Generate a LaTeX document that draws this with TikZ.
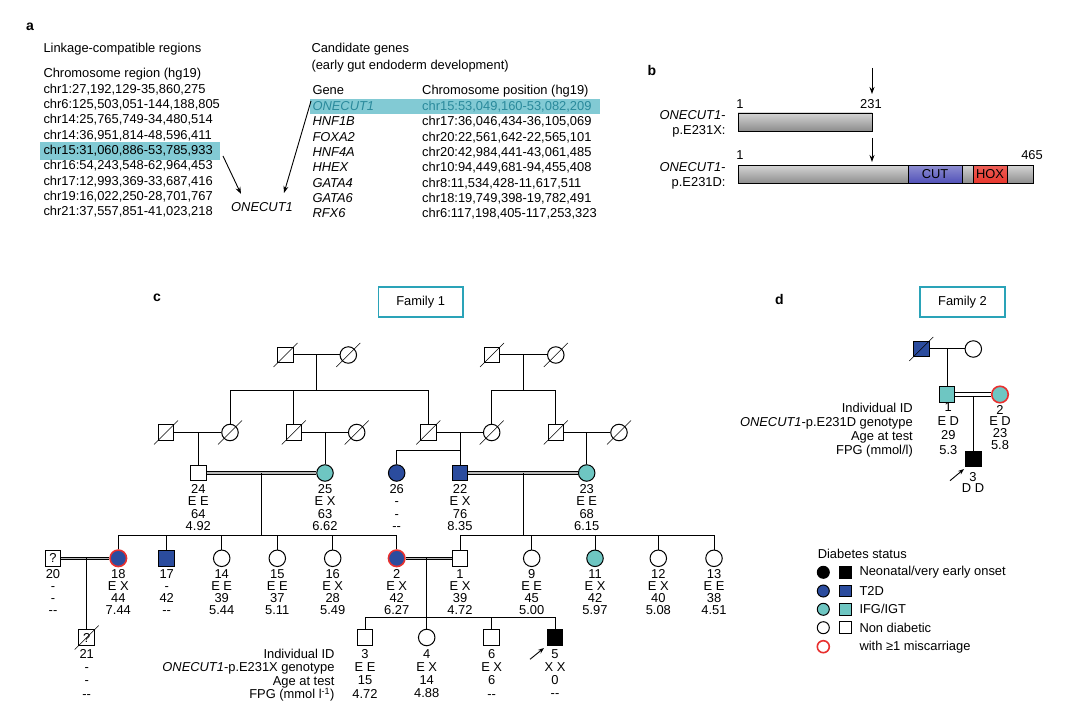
\documentclass[tikz,border=0pt]{standalone}
\usepackage{fontspec}
\setmainfont{Liberation Sans}
\usetikzlibrary{arrows.meta}
\definecolor{tdb}{HTML}{2B4C9E}
\definecolor{ifg}{HTML}{6EC6C2}
\definecolor{mred}{HTML}{E8302F}
\definecolor{hl}{HTML}{82CAD4}
\definecolor{hltxt}{HTML}{2A8A9C}
\definecolor{famc}{HTML}{2AA3B8}
\definecolor{cutc}{HTML}{5050B8}
\definecolor{hoxc}{HTML}{E8362C}
\definecolor{bartop}{HTML}{D4D4D4}
\definecolor{barbot}{HTML}{8C8C8C}
\newcommand{\dslash}[1]{\draw[line width=0.6pt] ([shift={(-12,12)}]#1.center) -- ([shift={(12,-12)}]#1.center);}
\begin{document}
\begin{tikzpicture}[x=1pt,y=-1pt,
  font=\fontsize{12.9}{15.3}\selectfont,
  line width=1pt,
  txt/.style={anchor=base west, inner sep=0pt},
  male/.style={draw, rectangle, minimum size=15.5pt, inner sep=0pt, line width=1pt},
  female/.style={draw, circle, minimum size=16.5pt, inner sep=0pt, line width=1pt},
  mis/.style={draw=mred, line width=1.6pt},
  lab/.style={align=center, anchor=north, inner sep=0pt, font=\fontsize{12.9}{12.1}\selectfont},
  labw/.style={align=center, anchor=north, inner sep=0pt, font=\fontsize{12.9}{13.3}\selectfont},
  dbl/.style={line width=1.1pt, double=gray!55, double distance=1.4pt},
  thinl/.style={line width=0.8pt},
  arr/.style={-{Stealth[length=7pt,width=5pt]}, line width=0.9pt},
  panel/.style={font=\fontsize{14}{16}\selectfont\bfseries, inner sep=0pt},
  fambox/.style={draw=famc, line width=1.6pt, minimum width=84.5pt, minimum height=30pt, inner sep=0pt},
  bar/.style={draw, line width=0.9pt, top color=bartop, bottom color=barbot, inner sep=0pt, minimum height=18pt},
  lc/.style={draw, circle, minimum size=12pt, inner sep=0pt, line width=1pt},
  ls/.style={draw, rectangle, minimum size=11.5pt, inner sep=0pt, line width=1pt},
]
\useasboundingbox (0,0) rectangle (1087,708);
\fill[white] (0,0) rectangle (1087,708);

% ---------------- panel a ----------------
\node[panel] (pa) at (30,27) {a};
\fill[hl] (40,142) rectangle (220,160);
\fill[hl] (310,99) rectangle (600,114);
\node[txt] (ha) at (43,53) {Linkage-compatible regions};
\node[txt] (hb) at (43,78) {Chromosome region (hg19)};
\node[txt] (r1) at (43,93.3) {chr1:27,192,129-35,860,275};
\node[txt] (r2) at (43,108.6) {chr6:125,503,051-144,188,805};
\node[txt] (r3) at (43,123.9) {chr14:25,765,749-34,480,514};
\node[txt] (r4) at (43,139.2) {chr14:36,951,814-48,596,411};
\node[txt] (r5) at (43,154.5) {chr15:31,060,886-53,785,933};
\node[txt] (r6) at (43,169.8) {chr16:54,243,548-62,964,453};
\node[txt] (r7) at (43,185.1) {chr17:12,993,369-33,687,416};
\node[txt] (r8) at (43,200.4) {chr19:16,022,250-28,701,767};
\node[txt] (r9) at (43,215.7) {chr21:37,557,851-41,023,218};
\node[inner sep=0pt] (oc) at (262,207) {\itshape ONECUT1};

\node[txt] (ca) at (311,53) {Candidate genes};
\node[txt] (cb) at (311,69.3) {(early gut endoderm development)};
\node[txt] (gh) at (312,95) {Gene};
\node[txt] (ph) at (421.7,95) {Chromosome position (hg19)};
\node[txt, text=hltxt] (g1) at (312,110.7) {\itshape ONECUT1};
\node[txt, text=hltxt] (p1) at (421.7,110.7) {chr15:53,049,160-53,082,209};
\node[txt] (g2) at (312,126) {\itshape HNF1B};
\node[txt] (p2) at (421.7,126) {chr17:36,046,434-36,105,069};
\node[txt] (g3) at (312,141.3) {\itshape FOXA2};
\node[txt] (p3) at (421.7,141.3) {chr20:22,561,642-22,565,101};
\node[txt] (g4) at (312,156.6) {\itshape HNF4A};
\node[txt] (p4) at (421.7,156.6) {chr20:42,984,441-43,061,485};
\node[txt] (g5) at (312,171.9) {\itshape HHEX};
\node[txt] (p5) at (421.7,171.9) {chr10:94,449,681-94,455,408};
\node[txt] (g6) at (312,187.2) {\itshape GATA4};
\node[txt] (p6) at (421.7,187.2) {chr8:11,534,428-11,617,511};
\node[txt] (g7) at (312,202.5) {\itshape GATA6};
\node[txt] (p7) at (421.7,202.5) {chr18:19,749,398-19,782,491};
\node[txt] (g8) at (312,217.8) {\itshape RFX6};
\node[txt] (p8) at (421.7,217.8) {chr6:117,198,405-117,253,323};
\coordinate (a1s) at (223,156);
\coordinate (a1e) at (241,194);
\coordinate (a2s) at (311,101);
\coordinate (a2e) at (284,193);
\draw[arr] (a1s) -- (a1e);
\draw[arr] (a2s) -- (a2e);

% ---------------- panel b ----------------
\node[panel] (pb) at (652,70) {b};
\coordinate (ba1) at (872,68); \coordinate (ba2) at (872,94);
\coordinate (ba3) at (872,138); \coordinate (ba4) at (872,162);
\draw[arr] (ba1) -- (ba2);
\draw[arr] (ba3) -- (ba4);
\node[anchor=base, inner sep=0pt] (n1a) at (740,108.5) {1};
\node[anchor=base, inner sep=0pt] (n231) at (871,108.5) {231};
\node[anchor=base, inner sep=0pt] (n1b) at (740,159.5) {1};
\node[anchor=base, inner sep=0pt] (n465) at (1032,159.5) {465};
\node[bar, minimum width=134pt] (bar1) at (805,122) {};
\node[bar, minimum width=295pt] (bar2) at (885.5,174.5) {};
\node[draw, line width=0.9pt, top color=cutc!65, bottom color=cutc, minimum width=54pt, minimum height=18pt, inner sep=0pt] (cut) at (935,174.5) {CUT};
\node[draw, line width=0.9pt, top color=hoxc!80, bottom color=hoxc, minimum width=34pt, minimum height=18pt, inner sep=0pt] (hox) at (990,174.5) {HOX};
\node[anchor=base east, inner sep=0pt] (bl1) at (726,119.5) {\itshape ONECUT1-};
\node[anchor=base east, inner sep=0pt] (bl2) at (726,134.5) {p.E231X:};
\node[anchor=base east, inner sep=0pt] (bl3) at (726,171.5) {\itshape ONECUT1-};
\node[anchor=base east, inner sep=0pt] (bl4) at (726,186.5) {p.E231D:};

% ---------------- panel c ----------------
\node[panel] (pc) at (157,298) {c};
\node[fambox] (fam1) at (420.7,302) {Family 1};

% Gen I
\node[male] (g1a) at (285.5,355) {};
\node[female] (g1b) at (348.3,355) {};
\node[male] (g1c) at (492,355) {};
\node[female] (g1d) at (555.8,355) {};
\draw (g1a) -- (g1b);
\draw (g1c) -- (g1d);
\coordinate (m1) at (316.7,355); \coordinate (s1) at (316.7,391);
\coordinate (m2) at (523.3,355); \coordinate (s2) at (523.3,391);
\draw (m1) -- (s1);
\draw (m2) -- (s2);

% Gen II deceased
\node[male] (g2a) at (166,432.5) {};
\node[female] (g2b) at (230,432.5) {};
\node[male] (g2c) at (293.8,432.5) {};
\node[female] (g2d) at (356.7,432.5) {};
\node[male] (g2e) at (428.3,432.5) {};
\node[female] (g2f) at (491.7,432.5) {};
\node[male] (g2g) at (555.8,432.5) {};
\node[female] (g2h) at (619,432.5) {};
\draw (g2b.north) -- (g2b.north |- s1) -- (g2e.north |- s1) -- (g2e.north);
\draw (g2c.north) -- (g2c.north |- s1);
\draw (g2f.north) -- (g2f.north |- s2) -- (g2g.north |- s2) -- (g2g.north);
\draw (g2a) -- (g2b);
\draw (g2c) -- (g2d);
\draw (g2e) -- (g2f);
\draw (g2g) -- (g2h);
\foreach \n in {g1a,g1b,g1c,g1d,g2a,g2b,g2c,g2d,g2e,g2f,g2g,g2h} {\dslash{\n}}

% Gen II living
\node[male] (n24) at (198.3,473) {};
\node[female, fill=ifg] (n25) at (325,473) {};
\node[female, fill=tdb] (n26) at (396.7,473) {};
\node[male, fill=tdb] (n22) at (460,473) {};
\node[female, fill=ifg] (n23) at (586.7,473) {};
\draw (n24.north |- g2a) -- (n24.north);
\draw (n25.north |- g2c) -- (n25.north);
\coordinate (s5) at (460,450);
\draw (n22.north |- g2e) -- (n22.north);
\draw (n26.north) |- (s5);
\draw (n23.north |- g2g) -- (n23.north);
\draw[dbl] (n24) -- (n25);
\draw[dbl] (n22) -- (n23);
\node[lab] (t24) at (198.3,484.3) {24\\E E\\64\\4.92};
\node[lab] (t25) at (325,484.3) {25\\E X\\63\\6.62};
\node[lab] (t26) at (396.7,484.3) {26\\-\\-\\-{}-};
\node[lab] (t22) at (460,484.3) {22\\E X\\76\\8.35};
\node[lab] (t23) at (586.7,484.3) {23\\E E\\68\\6.15};
\coordinate (m6) at (261.7,473); \coordinate (s6) at (261.7,535);
\coordinate (m7) at (523.3,473); \coordinate (s7) at (523.3,535);
\draw (m6) -- (s6);
\draw (m7) -- (s7);

% Gen III
\node[male] (n20) at (53,558.3) {?};
\node[female, fill=tdb, mis] (n18) at (118.3,558.3) {};
\node[male, fill=tdb] (n17) at (166.7,558.3) {};
\node[female] (n14) at (221.7,558.3) {};
\node[female] (n15) at (277.3,558.3) {};
\node[female] (n16) at (332.7,558.3) {};
\node[female, fill=tdb, mis] (n2) at (396.7,558.3) {};
\node[male] (n1) at (460,558.3) {};
\node[female] (n9) at (531.7,558.3) {};
\node[female, fill=ifg] (n11) at (595,558.3) {};
\node[female] (n12) at (658.3,558.3) {};
\node[female] (n13) at (714,558.3) {};
\draw (n18.north) -- (n18.north |- s6) -- (n2.north |- s6) -- (n2.north);
\foreach \k in {n17,n14,n15,n16} {\draw (\k.north) -- (\k.north |- s6);}
\draw (n1.north) -- (n1.north |- s7) -- (n13.north |- s7) -- (n13.north);
\foreach \k in {n9,n11,n12} {\draw (\k.north) -- (\k.north |- s7);}
\draw[dbl] (n20) -- (n18);
\draw[dbl] (n2) -- (n1);
\node[lab] (t20) at (53,569) {20\\-\\-\\-{}-};
\node[lab] (t18) at (118.3,569) {18\\E X\\44\\7.44};
\node[lab] (t17) at (166.7,569) {17\\-\\42\\-{}-};
\node[lab] (t14) at (221.7,569) {14\\E E\\39\\5.44};
\node[lab] (t15) at (277.3,569) {15\\E E\\37\\5.11};
\node[lab] (t16) at (332.7,569) {16\\E X\\28\\5.49};
\node[lab] (t2) at (396.7,569) {2\\E X\\42\\6.27};
\node[lab] (t1) at (460,569) {1\\E X\\39\\4.72};
\node[lab] (t9) at (531.7,569) {9\\E E\\45\\5.00};
\node[lab] (t11) at (595,569) {11\\E X\\42\\5.97};
\node[lab] (t12) at (658.3,569) {12\\E X\\40\\5.08};
\node[lab] (t13) at (714,569) {13\\E E\\38\\4.51};

% Gen IV
\node[male] (n21) at (86.7,637.5) {?};
\dslash{n21}
\draw (n21.north |- n20) -- (n21.north);
\node[male] (n3) at (365,637.5) {};
\node[female] (n4) at (426.7,637.5) {};
\node[male] (n6) at (491.7,637.5) {};
\node[male, fill=black] (n5) at (555,637.5) {};
\coordinate (m9) at (426.7,558.3); \coordinate (s9) at (426.7,617.3);
\draw (m9) -- (n4.north);
\draw (n3.north) -- (n3.north |- s9) -- (n5.north |- s9) -- (n5.north);
\draw (n6.north) -- (n6.north |- s9);
\coordinate (pr1) at (530,659.3); \coordinate (pr2) at (544,648);
\draw[arr, -{Stealth[length=6pt,width=4.5pt]}] (pr1) -- (pr2);
\node[labw] (t21) at (86.7,648.7) {21\\-\\-\\-{}-};
\node[labw] (t3) at (365,648.7) {3\\E E\\15\\4.72};
\node[labw] (t4) at (426.7,648.7) {4\\E X\\14\\4.88};
\node[labw] (t6) at (491.7,648.7) {6\\E X\\6\\-{}-};
\node[labw] (t5) at (555,648.7) {5\\X X\\0\\-{}-};
\node[labw, align=right, anchor=north east] (rowc) at (335,648.7) {Individual ID\\\textit{ONECUT1}-p.E231X genotype\\Age at test\\FPG (mmol l\textsuperscript{-1})};

% ---------------- panel d ----------------
\node[panel] (pd) at (779.3,299) {d};
\node[fambox] (fam2) at (962.5,302) {Family 2};
\node[male, fill=tdb] (f1) at (921.3,349) {};
\node[female] (f2) at (973.3,349) {};
\draw (f1) -- (f2);
\dslash{f1}
\node[male, fill=ifg] (f3) at (947,394.5) {};
\node[female, fill=ifg, mis] (f4) at (1000,394.5) {};
\draw (f3.north |- f1) -- (f3.north);
\draw[thinl] ([yshift=1.6pt]f3.east) -- ([yshift=1.6pt]f4.west);
\draw[thinl] ([yshift=-1.6pt]f3.east) -- ([yshift=-1.6pt]f4.west);
\node[male, fill=black] (f5) at (973.3,459) {};
\coordinate (fm2) at ([yshift=-1.6pt]f5.north |- f3);
\draw (fm2) -- (f5.north);
\coordinate (fr1) at (950,480.7); \coordinate (fr2) at (964,469);
\draw[arr, -{Stealth[length=6pt,width=4.5pt]}] (fr1) -- (fr2);
\node[align=right, anchor=north east, inner sep=0pt, font=\fontsize{12.9}{14.2}\selectfont] (rowd) at (913.3,402.2) {Individual ID\\\textit{ONECUT1}-p.E231D genotype\\Age at test\\FPG (mmol/l)};
\node[align=center, anchor=north, inner sep=0pt, font=\fontsize{12.9}{14.2}\selectfont] (tf3) at (948.3,402.2) {1\\E D\\29\\5.3};
\node[align=center, anchor=north, inner sep=0pt, font=\fontsize{12.9}{11.6}\selectfont] (tf4) at (1000,404.8) {2\\E D\\23\\5.8};
\node[align=center, anchor=north, inner sep=0pt, font=\fontsize{12.9}{11.3}\selectfont] (tf5) at (973,471.5) {3\\D D};

% legend
\node[anchor=west, inner sep=0pt] (lt) at (817.3,554) {Diabetes status};
\node[lc, fill=black] (lc1) at (823.3,572.3) {};
\node[ls, fill=black] (ls1) at (845.7,572.3) {};
\node[anchor=west, inner sep=0pt] (lx1) at (859,572.3) {Neonatal/very early onset};
\node[lc, fill=tdb] (lc2) at (823.3,591) {};
\node[ls, fill=tdb] (ls2) at (845.7,591) {};
\node[anchor=west, inner sep=0pt] (lx2) at (859,591) {T2D};
\node[lc, fill=ifg] (lc3) at (823.3,609.3) {};
\node[ls, fill=ifg] (ls3) at (845.7,609.3) {};
\node[anchor=west, inner sep=0pt] (lx3) at (859,609.3) {IFG/IGT};
\node[lc] (lc4) at (823.3,627.7) {};
\node[ls] (ls4) at (845.7,627.7) {};
\node[anchor=west, inner sep=0pt] (lx4) at (859,627.7) {Non diabetic};
\node[lc, mis] (lc5) at (823.3,646.7) {};
\node[anchor=west, inner sep=0pt] (lx5) at (859,646.7) {with ≥1 miscarriage};
\end{tikzpicture}
\end{document}
